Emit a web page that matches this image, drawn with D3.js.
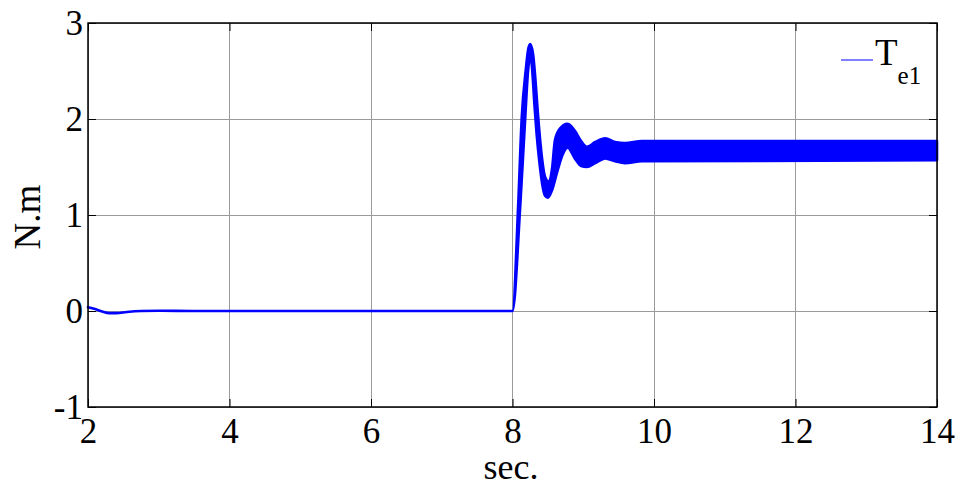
<!DOCTYPE html>
<html>
<head>
<meta charset="utf-8">
<script src="https://cdn.jsdelivr.net/npm/d3@7"></script>
<style>
  html, body { margin: 0; padding: 0; background: #fff; }
  svg { display: block; }
</style>
</head>
<body>
<svg id="chart" width="963" height="489"></svg>
<script>
// ---- data ----
const xTicks = [2, 4, 6, 8, 10, 12, 14];
const yTicks = [-1, 0, 1, 2, 3];
const xLabel = "sec.";
const yLabel = "N.m";
const legendName = "T";
const legendSub = "e1";

// pre-step segment (thin trace)
const initT = [2.0, 2.1, 2.2, 2.3, 2.4, 2.55, 2.75, 3.0, 3.5, 8.0];
const initV = [0.04, 0.02, -0.005, -0.022, -0.022, -0.01, 0.0, 0.003, 0.0, 0.0];

// upper envelope of the rippling torque band after the step
const upperT = [8.00, 8.08, 8.13, 8.19, 8.22, 8.25, 8.29, 8.32, 8.36, 8.41, 8.46, 8.51, 8.56, 8.60, 8.67, 8.78, 8.88, 8.97, 9.05, 9.17, 9.31, 9.45, 9.59, 9.83, 14.0];
const upperV = [0.00, 1.10, 2.01, 2.53, 2.72, 2.78, 2.68, 2.45, 2.05, 1.64, 1.40, 1.35, 1.49, 1.78, 1.90, 1.95, 1.88, 1.77, 1.71, 1.76, 1.80, 1.76, 1.75, 1.77, 1.77];

// lower envelope
const lowerT = [8.00, 8.11, 8.18, 8.22, 8.25, 8.27, 8.31, 8.34, 8.38, 8.42, 8.46, 8.50, 8.56, 8.64, 8.71, 8.78, 8.88, 8.97, 9.05, 9.17, 9.31, 9.45, 9.59, 9.83, 14.0];
const lowerV = [0.00, 1.10, 2.01, 2.50, 2.66, 2.58, 2.15, 1.85, 1.55, 1.32, 1.20, 1.18, 1.26, 1.47, 1.63, 1.70, 1.59, 1.51, 1.50, 1.54, 1.59, 1.56, 1.54, 1.56, 1.57];

// ---- layout ----
const svg = d3.select("#chart");
const m = { left: 88, top: 23, right: 937, bottom: 407 };
const x = d3.scaleLinear().domain([2, 14]).range([m.left, m.right]);
const y = d3.scaleLinear().domain([-1, 3]).range([m.bottom, m.top]);
const font = "'Liberation Serif', 'Times New Roman', serif";
const fmt = d => String(d);

// grid
const grid = svg.append("g");
grid.selectAll("line.gx").data(xTicks).join("line")
  .attr("x1", d => x(d)).attr("x2", d => x(d))
  .attr("y1", m.top).attr("y2", m.bottom)
  .attr("stroke", "#9a9a9a").attr("stroke-width", 1).attr("shape-rendering", "crispEdges");
grid.selectAll("line.gy").data(yTicks).join("line")
  .attr("y1", d => y(d)).attr("y2", d => y(d))
  .attr("x1", m.left).attr("x2", m.right)
  .attr("stroke", "#9a9a9a").attr("stroke-width", 1).attr("shape-rendering", "crispEdges");

// data band: upper boundary forward, lower boundary backward, both smoothed
const upperPts = initT.map((t, i) => [x(t), y(initV[i])])
  .concat(upperT.slice(1).map((t, i) => [x(t), y(upperV[i + 1])]));
const lowerPts = initT.map((t, i) => [x(t), y(initV[i])])
  .concat(lowerT.slice(1).map((t, i) => [x(t), y(lowerV[i + 1])]));
const lineGen = d3.line().curve(d3.curveMonotoneX);
const upPath = lineGen(upperPts);
const lowPathRev = lineGen(lowerPts.slice().reverse());
const bandPath = upPath + "L" + lowPathRev.slice(1) + "Z";

svg.append("path")
  .attr("d", bandPath)
  .attr("fill", "#0000ff")
  .attr("stroke", "#0000ff")
  .attr("stroke-width", 2.6)
  .attr("stroke-linejoin", "round");

// axes with inward ticks
const tickLen = 8;
const xb = svg.append("g").attr("transform", `translate(0,${m.bottom})`)
  .call(d3.axisBottom(x).tickValues(xTicks).tickSize(-tickLen).tickPadding(12).tickFormat(fmt));
const xt = svg.append("g").attr("transform", `translate(0,${m.top})`)
  .call(d3.axisTop(x).tickValues(xTicks).tickSize(-tickLen).tickFormat(""));
const yl = svg.append("g").attr("transform", `translate(${m.left},0)`)
  .call(d3.axisLeft(y).tickValues(yTicks).tickSize(-tickLen).tickPadding(6).tickFormat(fmt));
const yr = svg.append("g").attr("transform", `translate(${m.right},0)`)
  .call(d3.axisRight(y).tickValues(yTicks).tickSize(-tickLen).tickFormat(""));

[xb, xt, yl, yr].forEach(g => {
  g.selectAll(".domain").remove();
  g.selectAll(".tick line").attr("stroke", "#000").attr("stroke-width", 1);
  g.selectAll("text").attr("font-family", font).attr("font-size", 35).attr("fill", "#000");
});
xb.selectAll("text").attr("dy", null).attr("y", null).attr("transform", "translate(0,36)");
yl.selectAll("text").attr("x", -5).attr("dy", "0.34em");

// frame
svg.append("rect")
  .attr("x", m.left).attr("y", m.top)
  .attr("width", m.right - m.left).attr("height", m.bottom - m.top)
  .attr("fill", "none").attr("stroke", "#000").attr("stroke-width", 1.5);

// axis labels
svg.append("text").attr("x", 511).attr("y", 479)
  .attr("text-anchor", "middle").attr("font-family", font).attr("font-size", 36)
  .text(xLabel);
svg.append("text").attr("transform", "translate(40,217) rotate(-90)")
  .attr("text-anchor", "middle").attr("font-family", font).attr("font-size", 37)
  .text(yLabel);

// legend
svg.append("line").attr("x1", 841).attr("x2", 873).attr("y1", 60).attr("y2", 60)
  .attr("stroke", "#0000ff").attr("stroke-width", 1);
const lt = svg.append("text").attr("x", 875).attr("y", 65)
  .attr("font-family", font).attr("font-size", 37).attr("fill", "#000");
lt.append("tspan").text(legendName);
lt.append("tspan").attr("dy", 19).attr("font-size", 25).text(legendSub);
</script>
</body>
</html>
